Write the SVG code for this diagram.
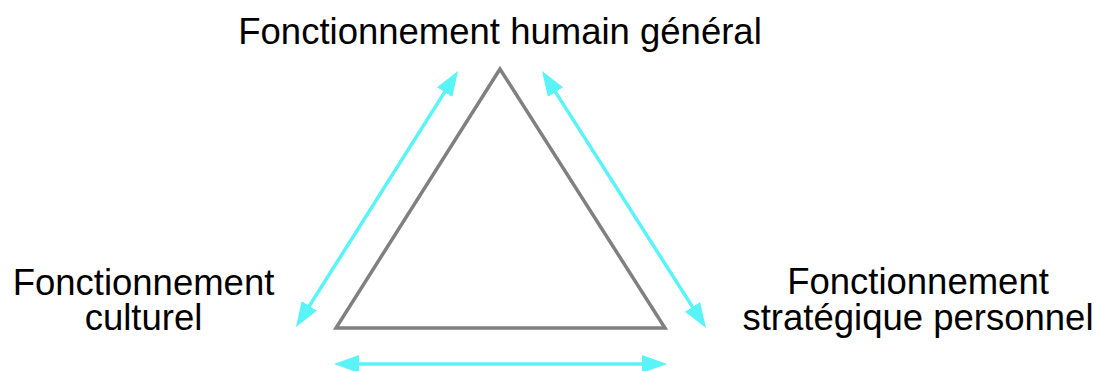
<svg xmlns="http://www.w3.org/2000/svg" width="1098" height="371" viewBox="0 0 1098 371">
  <style>
    .lbl { font-family: "Liberation Sans", Arial, Helvetica, sans-serif; font-size: 36.5px; fill: #000; text-anchor: middle; }
    .arrow { stroke: #5AF3F7; stroke-width: 3.5; fill: none; marker-start: url(#head); marker-end: url(#head); }
    .tri { stroke: #808080; stroke-width: 3.5; fill: none; stroke-linejoin: miter; }
  </style>
  <defs>
    <marker id="head" viewBox="0 0 25 18" refX="15" refY="9" markerWidth="25" markerHeight="18" markerUnits="userSpaceOnUse" orient="auto-start-reverse">
      <path d="M0,0 L25,9 L0,18 Z" fill="#5AF3F7"/>
    </marker>
  </defs>
  <rect width="1098" height="371" fill="#fff"/>
  <g id="triangle">
    <polygon class="tri" points="500,69 336,328 665,328"/>
  </g>
  <g id="node-top">
    <text class="lbl" x="500" y="44">Fonctionnement humain général</text>
  </g>
  <g id="node-left">
    <text class="lbl" x="143.5" y="295">Fonctionnement</text>
    <text class="lbl" x="143.5" y="330">culturel</text>
  </g>
  <g id="node-right">
    <text class="lbl" x="918" y="294">Fonctionnement</text>
    <text class="lbl" x="918" y="330">stratégique personnel</text>
  </g>
  <g id="connectors">
    <line class="arrow" x1="301.3" y1="318.6" x2="452.7" y2="79.4"/>
    <line class="arrow" x1="547.4" y1="79.4" x2="700.6" y2="319.6"/>
    <line class="arrow" x1="344" y1="364" x2="657" y2="364"/>
  </g>
</svg>
